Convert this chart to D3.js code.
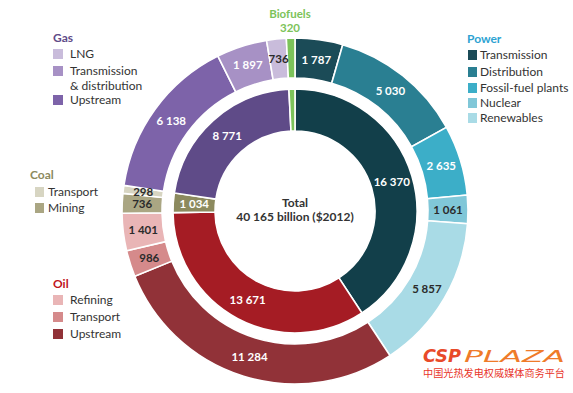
<!DOCTYPE html>
<html>
<head>
<meta charset="utf-8">
<script src="https://cdn.jsdelivr.net/npm/d3@7"></script>
<style>
  body { margin: 0; background: #fff; }
  svg { display: block; font-family: Lato, "Open Sans", sans-serif; }
</style>
</head>
<body>
<div id="chart"></div>
<script>
// 資料：內圈為產業，外圈為細項
const sectors = ["Power", "Oil", "Coal", "Gas", "Biofuels"];
const sectorValues = [16370, 13671, 1034, 8771, 320];
const sectorColors = ["#123f4a", "#a51c24", "#8c8a5e", "#5f4b88", "#7cc35a"];

const powerItems = ["Transmission", "Distribution", "Fossil-fuel plants", "Nuclear", "Renewables"];
const powerValues = [1787, 5030, 2635, 1061, 5857];
const powerColors = ["#1b4b57", "#2a7f92", "#3caec8", "#80c7d8", "#a9dbe6"];

const oilItems = ["Upstream", "Transport", "Refining"];
const oilValues = [11284, 986, 1401];
const oilColors = ["#913238", "#d58a8b", "#e9b5b6"];

const coalItems = ["Mining", "Transport"];
const coalValues = [736, 298];
const coalColors = ["#aaa683", "#d7d5c2"];

const gasItems = ["Upstream", "Transmission & distribution", "LNG"];
const gasValues = [6138, 1897, 736];
const gasColors = ["#7d63a9", "#a791c5", "#c9bcdb"];

const bioValues = [320];

const totalLabel = ["Total", "40 165 billion ($2012)"];

const W = 573, H = 393;
const cx = 295, cy = 211;

const fmt = d3.formatLocale({ decimal: ".", thousands: " ", grouping: [3], currency: ["", ""] }).format(",d");

const svg = d3.select("#chart").append("svg")
    .attr("width", W).attr("height", H);

const g = svg.append("g").attr("transform", `translate(${cx},${cy})`);

// 內圈
const innerData = sectors.map((s, i) => ({ name: s, value: sectorValues[i], color: sectorColors[i], dark: true }));

// 外圈
const outerData = [];
powerItems.forEach((n, i) => outerData.push({ name: n, value: powerValues[i], color: powerColors[i], dark: i < 3 }));
oilItems.forEach((n, i) => outerData.push({ name: n, value: oilValues[i], color: oilColors[i], dark: i === 0 }));
coalItems.forEach((n, i) => outerData.push({ name: n, value: coalValues[i], color: coalColors[i], dark: false }));
gasItems.forEach((n, i) => outerData.push({ name: n, value: gasValues[i], color: gasColors[i], dark: i < 2 }));
outerData.push({ name: "Biofuels", value: bioValues[0], color: sectorColors[4], dark: true, nolabel: true });
innerData[4].nolabel = true;

const pie = d3.pie().sort(null).value(d => d.value);

const innerArc = d3.arc().innerRadius(80).outerRadius(122);
const outerArc = d3.arc().innerRadius(133).outerRadius(173);
const innerLab = d3.arc().innerRadius(101).outerRadius(101);
const outerLab = d3.arc().innerRadius(153).outerRadius(153);

function ring(data, arc, lab) {
    const arcs = pie(data);
    g.append("g").selectAll("path")
        .data(arcs).enter().append("path")
        .attr("d", arc)
        .attr("fill", d => d.data.color)
        .attr("stroke", "#fff")
        .attr("stroke-width", 1.6);
    g.append("g").selectAll("text")
        .data(arcs.filter(d => !d.data.nolabel)).enter().append("text")
        .attr("transform", d => `translate(${lab.centroid(d)})`)
        .attr("text-anchor", "middle")
        .attr("dy", "0.35em")
        .style("font-size", "11.5px")
        .style("font-weight", "bold")
        .style("fill", d => d.data.dark ? "#fff" : "#2b2b2b")
        .text(d => fmt(d.data.value));
}
ring(innerData, innerArc, innerLab);
ring(outerData, outerArc, outerLab);

// 中央總計
g.append("text").attr("text-anchor", "middle").attr("y", -4)
    .style("font-size", "12px").style("font-weight", "bold").style("fill", "#333")
    .text(totalLabel[0]);
g.append("text").attr("text-anchor", "middle").attr("y", 10)
    .style("font-size", "12px").style("font-weight", "bold").style("fill", "#333")
    .text(totalLabel[1]);

// 圖例
function legend(x, y, title, titleColor, items, colors, step, sw, tx) {
    const lg = svg.append("g").attr("transform", `translate(${x},${y})`);
    lg.append("text").attr("x", 0).attr("y", 0).attr("dy", "0.35em")
        .style("font-size", "12px").style("font-weight", "bold").style("fill", titleColor)
        .text(title);
    let yy = 0;
    items.forEach((it, i) => {
        yy += step[i];
        lg.append("rect").attr("x", sw[0]).attr("y", yy - 5).attr("width", sw[1]).attr("height", 10)
            .attr("fill", colors[i]);
        const lines = it.split("\n");
        lines.forEach((ln, j) => {
            lg.append("text").attr("x", tx).attr("y", yy + j * 14.5).attr("dy", "0.35em")
                .style("font-size", "12px").style("fill", "#333").text(ln);
        });
    });
}

legend(53, 38, "Gas", "#5f4b88",
    ["LNG", "Transmission\n& distribution", "Upstream"],
    [gasColors[2], gasColors[1], gasColors[0]],
    [16, 17, 29], [0, 10], 17);

legend(467, 39, "Power", "#2ea3d2",
    powerItems, powerColors,
    [16, 17, 16, 15, 15], [1, 9], 13);

legend(30, 175, "Coal", "#8c8a5e",
    ["Transport", "Mining"], [coalColors[1], coalColors[0]],
    [17, 16], [5, 9], 18);

legend(53, 284, "Oil", "#c0141c",
    ["Refining", "Transport", "Upstream"], [oilColors[2], oilColors[1], oilColors[0]],
    [16, 17, 17], [0, 10], 17);

// 生質燃料標題
svg.append("text").attr("x", 290).attr("y", 13.5).attr("dy", "0.35em").attr("text-anchor", "middle")
    .style("font-size", "11.5px").style("font-weight", "bold").style("fill", "#7cc35a").text("Biofuels");
svg.append("text").attr("x", 290).attr("y", 28).attr("dy", "0.35em").attr("text-anchor", "middle")
    .style("font-size", "11.5px").style("font-weight", "bold").style("fill", "#7cc35a").text(fmt(bioValues[0]));

// 浮水印
const logo = svg.append("g").attr("transform", "translate(423,362)");
logo.append("text").attr("x", 0).attr("y", 0)
    .attr("textLength", 38).attr("lengthAdjust", "spacingAndGlyphs")
    .style("font-family", "'DejaVu Sans', sans-serif")
    .style("font-size", "17px").style("font-weight", "bold").style("font-style", "italic")
    .style("fill", "#e84a2a").text("CSP");
logo.append("text").attr("x", 41).attr("y", 0)
    .attr("textLength", 101).attr("lengthAdjust", "spacingAndGlyphs")
    .style("font-family", "'DejaVu Sans', sans-serif")
    .style("font-size", "16px").style("font-weight", "200").style("font-style", "italic")
    .style("fill", "#ef7b2a").text("PLAZA");
logo.append("text").attr("x", 0).attr("y", 15)
    .attr("textLength", 142).attr("lengthAdjust", "spacingAndGlyphs")
    .style("font-family", "'Noto Sans CJK SC', sans-serif")
    .style("font-size", "10px")
    .style("fill", "#e8352a").text("中国光热发电权威媒体商务平台");
</script>
</body>
</html>
